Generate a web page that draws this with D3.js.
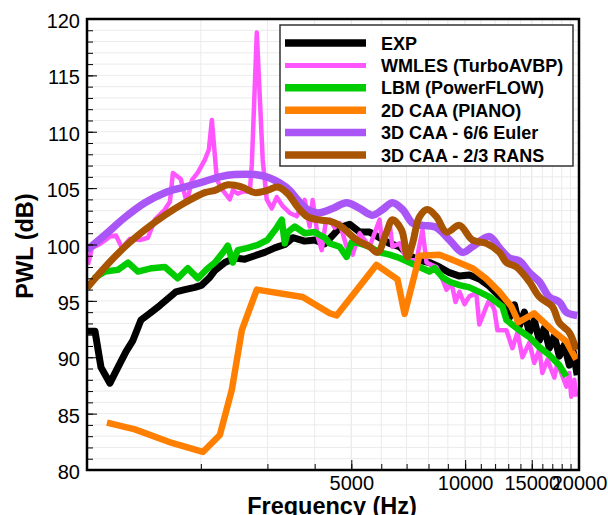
<!DOCTYPE html>
<html>
<head>
<meta charset="utf-8">
<title>PWL spectra</title>
<script src="https://cdn.jsdelivr.net/npm/d3@7"></script>
<style>
  body { margin: 0; background: #fff; }
  text { font-family: "Liberation Sans", Arial, Helvetica, sans-serif; }
</style>
</head>
<body>
<div id="graph"></div>
<script>
// values: [frequency (Hz), PWL (dB)]
var expData = [[1000,92.3],[1050,92.3],[1089,89.1],[1150,87.7],[1207,89.1],[1268,90.5],[1323,91.5],[1389,93.3],[1467,93.9],[1559,94.6],[1637,95.2],[1718,95.8],[1814,96.0],[1929,96.2],[2012,96.4],[2113,97.1],[2179,97.7],[2315,98.4],[2459,98.8],[2614,98.7],[2778,99.0],[2951,99.3],[3137,99.7],[3334,100.0],[3500,100.6],[3764,100.3],[4000,100.4],[4253,100.05],[4463,100.8],[4657,101.5],[4949,101.8],[5259,101.1],[5588,101.1],[5938,100.6],[6310,100.1],[6706,99.8],[7126,99.0],[7572,98.6],[8046,98.4],[8550,98.0],[9090,97.5],[9660,97.2],[10260,97.3],[10900,96.95],[11590,96.3],[12320,95.4],[12700,94.8],[13090,93.5],[13500,94.65],[13910,92.8],[14340,94.0],[14780,92.2],[15230,93.3],[15710,91.5],[16190,92.6],[16690,90.8],[17210,91.9],[17740,90.1],[18290,91.1],[18850,89.3],[19310,90.5],[19780,88.4]];

var wmlesData = [[1006,98.2],[1030,99.7],[1082,100.05],[1150,100.7],[1193,100.8],[1237,99.7],[1299,100.5],[1380,100.4],[1449,100.6],[1512,102.2],[1607,103.1],[1657,103.8],[1687,106.35],[1770,105.8],[1836,103.7],[1894,105.7],[1965,106.4],[2049,107.5],[2100,108.4],[2139,111.05],[2206,105.7],[2287,104.8],[2386,104.0],[2430,104.8],[2505,104.5],[2583,104.7],[2695,104.7],[2728,107.1],[2812,118.8],[2915,107.5],[2987,104.0],[3080,103.2],[3176,104.2],[3294,103.4],[3436,102.8],[3587,102.5],[3764,103.95],[3880,101.6],[3951,103.95],[4076,100.7],[4175,99.5],[4280,102.0],[4382,102.2],[4517,101.5],[4657,101.9],[4859,99.8],[5040,99.1],[5259,101.0],[5422,100.4],[5588,99.8],[5938,102.2],[6046,99.8],[6310,101.9],[6424,99.8],[6706,100.1],[6915,99.1],[7126,98.6],[7437,98.6],[7712,101.3],[7903,98.4],[8398,98.0],[8710,96.9],[8925,96.0],[9200,96.6],[9430,94.9],[9660,95.8],[9960,94.7],[10260,95.4],[10700,95.7],[10900,92.9],[11380,94.5],[11590,95.1],[11950,94.2],[12170,92.4],[12860,92.4],[13330,90.8],[13750,92.2],[14170,90.0],[14780,91.3],[15230,89.5],[15710,90.7],[16000,88.6],[16500,89.8],[17210,88.2],[17540,89.5],[18520,87.4],[18850,88.6],[19080,86.5],[19430,88.0],[19660,86.5]];

var lbmData = [[1043,97.0],[1116,97.6],[1207,97.75],[1284,98.4],[1364,97.6],[1484,97.9],[1607,98.0],[1738,97.0],[1847,97.9],[1965,97.0],[2087,97.9],[2179,98.4],[2315,99.5],[2357,99.9],[2430,98.4],[2505,99.5],[2662,99.7],[2829,99.96],[3000,100.4],[3176,101.5],[3274,102.2],[3334,100.1],[3396,101.1],[3543,101.6],[3764,101.0],[4000,101.1],[4253,100.6],[4382,100.1],[4657,99.8],[4859,98.9],[5010,100.2],[5259,100.1],[5588,99.8],[5938,99.3],[6310,99.1],[6706,98.8],[7126,98.4],[7572,98.0],[8046,97.6],[8296,97.9],[8710,97.1],[9090,96.7],[9660,96.4],[10260,96.2],[10900,95.8],[11590,95.35],[12550,94.5],[12860,93.3],[13910,92.4],[14780,91.8],[15710,90.9],[16690,90.2],[17740,89.3],[18520,88.3]];

var pianoData = [[1129,84.2],[1339,83.6],[1677,82.4],[2025,81.6],[2245,83.1],[2415,87.1],[2567,92.4],[2812,96.0],[3718,95.35],[4382,93.9],[4572,93.7],[5830,98.2],[6623,96.9],[6915,93.85],[7572,99.0],[8550,99.1],[9480,98.5],[10450,97.9],[11380,96.95],[12320,95.8],[13250,94.5],[13830,93.1],[15230,93.9],[17000,92.4],[18520,91.4],[19660,89.8]];

var eulerData = [[1000,99.5],[1116,100.85],[1260,102.4],[1423,103.7],[1607,104.6],[1814,105.1],[2049,105.6],[2245,106.0],[2459,106.2],[2778,106.2],[3043,105.9],[3234,105.45],[3436,104.8],[3609,103.95],[3833,103.1],[4076,102.8],[4463,103.2],[4859,103.7],[5259,103.2],[5690,102.6],[6046,103.1],[6424,103.7],[6830,103.1],[7258,101.9],[7712,101.7],[8398,101.5],[9090,100.4],[9840,99.3],[10450,99.8],[11590,100.7],[12320,99.7],[13090,98.8],[13910,98.55],[14780,97.5],[15710,96.7],[16690,95.35],[17740,94.9],[18520,94.0],[19780,93.7]];

var ransData = [[1000,96.15],[1116,98.0],[1260,99.8],[1423,101.3],[1607,102.6],[1814,103.7],[2049,104.6],[2179,104.8],[2357,105.3],[2567,105.1],[2778,104.6],[3000,104.8],[3195,105.1],[3396,104.5],[3609,103.3],[3833,102.45],[4076,102.2],[4463,102.0],[4742,101.5],[5165,100.4],[5588,99.8],[5866,99.3],[6195,101.1],[6424,102.2],[6788,101.3],[7043,98.9],[7258,100.1],[7572,102.45],[7951,103.1],[8398,102.45],[8925,101.1],[9660,101.7],[10450,100.4],[11380,100.1],[12320,99.3],[12860,98.4],[13660,98.0],[14780,96.7],[15710,95.35],[17000,94.5],[17740,93.05],[18850,92.2],[19660,90.65]];

var seriesNames = ["EXP", "WMLES (TurboAVBP)", "LBM (PowerFLOW)", "2D CAA (PIANO)", "3D CAA - 6/6 Euler", "3D CAA - 2/3 RANS"];
var seriesData = [expData, wmlesData, lbmData, pianoData, eulerData, ransData];
var seriesColors = ["#000000", "#ff55ff", "#00cc00", "#ff8000", "#aa55f5", "#a85400"];
var seriesWidths = [7, 4.5, 6.5, 6.5, 7.5, 7];
var seriesSmooth = [false, false, false, false, true, true];

var xMajor = [5000, 10000, 15000, 20000];
var xMinor = d3.range(2000, 20000, 1000);
var yMajor = d3.range(80, 121, 5);
var yMinor = d3.range(80, 121, 1);

var W = 608, H = 515;
var pL = 87, pR = 579, pT = 19, pB = 470;

var svg = d3.select("#graph").append("svg")
    .attr("width", W).attr("height", H);

var x = d3.scaleLog().domain([1000, 20000]).range([pL, pR]);
var y = d3.scaleLinear().domain([80, 120]).range([pB, pT]);

svg.append("defs").append("clipPath").attr("id", "plotclip")
  .append("rect").attr("x", pL).attr("y", pT)
  .attr("width", pR - pL).attr("height", pB - pT);

// light grid
svg.append("g").selectAll("line").data(xMinor.concat(xMajor))
  .enter().append("line")
    .attr("x1", function(d){ return x(d); }).attr("x2", function(d){ return x(d); })
    .attr("y1", pT).attr("y2", pB)
    .attr("stroke", "#ebebeb").attr("stroke-width", 1);
svg.append("g").selectAll("line").data(yMinor)
  .enter().append("line")
    .attr("x1", pL).attr("x2", pR)
    .attr("y1", function(d){ return y(d); }).attr("y2", function(d){ return y(d); })
    .attr("stroke", "#ebebeb").attr("stroke-width", 1);

// curves
var plot = svg.append("g").attr("clip-path", "url(#plotclip)");
seriesData.forEach(function(data, i) {
  var line = d3.line()
    .x(function(d){ return x(d[0]); })
    .y(function(d){ return y(d[1]); })
    .curve(seriesSmooth[i] ? d3.curveCatmullRom.alpha(0.5) : d3.curveLinear);
  plot.append("path")
    .datum(data)
    .attr("d", line)
    .attr("fill", "none")
    .attr("stroke", seriesColors[i])
    .attr("stroke-width", seriesWidths[i])
    .attr("stroke-linejoin", "round");
});

// axes, ticks pointing inward
function clean(g) { g.select(".domain").remove(); g.selectAll("line").attr("stroke", "#000"); }

svg.append("g").attr("transform", "translate(0," + pB + ")")
  .call(d3.axisBottom(x).tickValues(xMinor).tickSize(-6).tickFormat(""))
  .call(clean);
svg.append("g").attr("transform", "translate(0," + pB + ")")
  .call(d3.axisBottom(x).tickValues(xMajor).tickSize(-10).tickFormat(d3.format("d")))
  .call(clean)
  .call(function(g){ g.selectAll("text").attr("font-size", 20).attr("fill", "#000").attr("y", 20).attr("dy", 0); });

svg.append("g").attr("transform", "translate(" + pL + ",0)")
  .call(d3.axisLeft(y).tickValues(yMinor).tickSize(-6).tickFormat(""))
  .call(clean);
svg.append("g").attr("transform", "translate(" + pL + ",0)")
  .call(d3.axisLeft(y).tickValues(yMajor).tickSize(-10).tickFormat(d3.format("d")))
  .call(clean)
  .call(function(g){ g.selectAll("text").attr("font-size", 20).attr("fill", "#000").attr("x", -7).attr("dy", 8.5); });

// frame
svg.append("rect").attr("x", pL).attr("y", pT)
  .attr("width", pR - pL).attr("height", pB - pT)
  .attr("fill", "none").attr("stroke", "#000").attr("stroke-width", 2.5);

// axis titles
svg.append("text").attr("x", 332).attr("y", 514)
  .attr("text-anchor", "middle").attr("font-size", 23.5).attr("font-weight", "bold")
  .text("Frequency (Hz)");
svg.append("text").attr("transform", "translate(33,246) rotate(-90)")
  .attr("text-anchor", "middle").attr("font-size", 23.5).attr("font-weight", "bold")
  .text("PWL (dB)");

// legend
var lg = svg.append("g");
lg.append("rect").attr("x", 280).attr("y", 25).attr("width", 293).attr("height", 141)
  .attr("fill", "#fff").attr("stroke", "#333").attr("stroke-width", 1.5);
seriesNames.forEach(function(name, i) {
  var ly = 43 + i * 22.4;
  lg.append("line").attr("x1", 285).attr("x2", 366).attr("y1", ly).attr("y2", ly)
    .attr("stroke", seriesColors[i]).attr("stroke-width", i == 1 ? 5 : 7.5);
  lg.append("text").attr("x", 381).attr("y", ly + 6.5)
    .attr("font-size", 18).attr("font-weight", "bold").text(name);
});
</script>
</body>
</html>
